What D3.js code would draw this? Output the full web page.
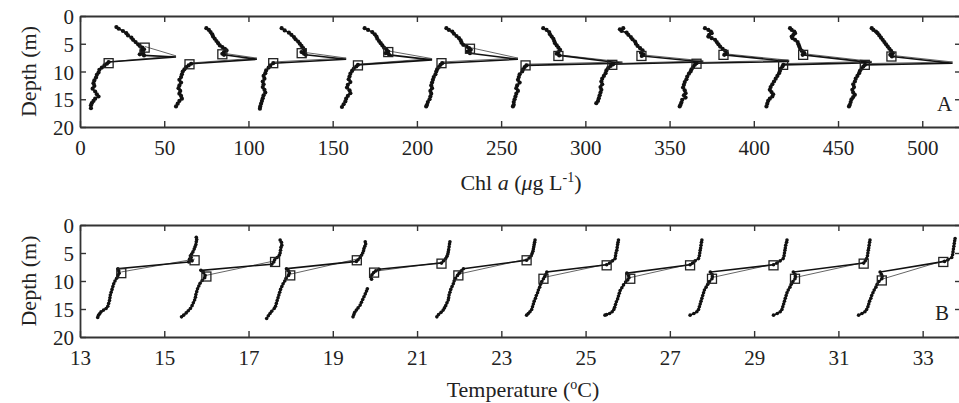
<!DOCTYPE html>
<html>
<head>
<meta charset="utf-8">
<script src="https://cdn.jsdelivr.net/npm/d3@7"></script>
<style>
  body { margin: 0; background: #fff; }
  text { font-family: "Liberation Serif", "Times New Roman", serif; fill: #222; }
</style>
</head>
<body>
<div id="chart"></div>
<script>
// profiles are drawn shifted: each one is offset by a fixed step on the x axis
var chlStep = 50;
var tempStep = 2;

var chlTicks = [0, 50, 100, 150, 200, 250, 300, 350, 400, 450, 500];
var tempTicks = [13, 15, 17, 19, 21, 23, 25, 27, 29, 31, 33];
var depthTicks = [0, 5, 10, 15, 20];

// Chl a profiles, [depth, value] before offset
var chlUpper = [
  [[2.0,21.6],[2.3,23],[2.7,25.5],[3.1,27.5],[3.5,28.5],[3.9,30.5],[4.3,31.5],[4.7,33],[5.1,34.5],[5.4,35.5],[5.7,37],[6.0,38],[6.3,36.5],[6.6,37.5],[6.9,35.5],[7.1,38]],
  [[2.2,25],[2.5,26.5],[2.9,27.5],[3.3,28.5],[3.7,29],[4.1,30],[4.5,31],[4.9,32],[5.3,33],[5.6,34.5],[5.9,36],[6.2,37],[6.5,35.5],[6.8,34.5],[7.0,35.5]],
  [[2.2,19.7],[2.6,21.5],[3.0,24],[3.4,25.5],[3.8,27],[4.2,28],[4.6,29.5],[5.0,30.5],[5.4,31.5],[5.8,32.5],[6.2,33.5],[6.5,31.5],[6.8,33],[7.0,34]],
  [[2.2,19],[2.5,21],[2.9,23.5],[3.3,25],[3.7,26],[4.1,26.5],[4.5,27.5],[4.9,28.5],[5.3,29.5],[5.7,30.5],[6.1,32],[6.4,33],[6.7,31.5],[7.0,33.5]],
  [[2.2,17.5],[2.5,19],[2.8,21],[3.2,22],[3.6,23.5],[4.0,25],[4.4,26],[4.8,26.5],[5.2,27.5],[5.5,29.5],[5.8,31],[6.1,32],[6.4,30],[6.7,31.5]],
  [[2.2,25],[2.5,27],[2.9,28.5],[3.3,29],[3.7,30],[4.1,31],[4.5,31.5],[4.9,32],[5.3,33],[5.7,34],[6.1,35],[6.5,34],[6.8,33],[7.1,34.5]],
  [[2.2,22.5],[2.4,20.5],[2.7,21.5],[3.0,24.5],[3.4,25.5],[3.8,27],[4.2,28],[4.6,29.5],[5.0,30],[5.4,31],[5.8,32.5],[6.2,34],[6.6,33],[6.9,34.5],[7.2,33.5]],
  [[2.2,21],[2.5,23],[2.8,24.5],[3.1,25],[3.4,23.5],[3.7,23],[4.0,25],[4.3,27],[4.7,28],[5.1,29],[5.5,30],[5.9,31.5],[6.3,33],[6.7,34],[7.0,32.5]],
  [[2.2,21.5],[2.5,22.5],[2.8,24],[3.1,24.5],[3.4,23.5],[3.7,22.5],[4.0,23],[4.3,24.5],[4.7,26],[5.1,26.5],[5.5,27],[5.9,27.5],[6.3,28.5],[6.7,30],[7.0,29]],
  [[2.2,20],[2.5,21],[2.8,22.5],[3.1,23.5],[3.5,24.5],[3.9,25.5],[4.3,26.5],[4.7,27.5],[5.1,28.5],[5.5,29.5],[5.9,30.5],[6.3,31.5],[6.7,32.5],[7.0,31],[7.3,32]]
];
var chlPeak = [[7.4,57],[7.8,55],[7.8,58],[7.9,59],[7.8,60],[8.5,72],[8.3,70],[8.2,71],[8.4,70],[8.5,68]];
var chlLower = [
  [[8.3,17],[8.6,16],[8.9,14.5],[9.3,13],[9.7,11.5],[10.2,11],[10.6,10],[11.1,9.5],[11.6,8.5],[12.1,8],[12.6,8.5],[13.1,7.5],[13.6,9],[14.1,10],[14.5,11],[14.9,9],[15.3,8],[15.7,7],[16.1,6.5],[16.6,6.5]],
  [[8.6,16],[8.9,14.5],[9.2,13],[9.6,12],[10.0,11],[10.5,10.5],[11.0,10],[11.5,9],[12.0,10],[12.5,9],[13.0,8.5],[13.5,9.5],[14.0,9],[14.4,10],[14.9,10.5],[15.3,9],[15.8,8],[16.3,7]],
  [[8.5,14.7],[8.9,13],[9.3,12],[9.8,10.5],[10.3,10],[10.8,9],[11.3,9.5],[11.8,8.5],[12.3,9],[12.8,8.5],[13.3,9.5],[13.8,10],[14.3,9],[14.8,8.5],[15.3,8],[15.8,7.5],[16.3,7],[16.7,6.8]],
  [[8.8,15],[9.1,14],[9.5,12.5],[9.9,11.5],[10.4,10.5],[10.9,10],[11.4,9.5],[11.9,10.5],[12.4,9],[12.9,8.5],[13.4,10],[13.9,10.5],[14.4,9],[14.9,8],[15.4,7.5],[15.9,6.5],[16.4,5.5]],
  [[8.5,15],[8.8,14],[9.2,13],[9.6,12],[10.0,11.5],[10.5,11],[11.0,10],[11.5,9.5],[12.0,9],[12.5,8.5],[13.0,9],[13.5,8],[14.0,8.5],[14.5,8],[15.0,7.5],[15.5,6.5],[16.0,6],[16.3,5.5]],
  [[8.9,15],[9.2,14],[9.6,13],[10.0,12.5],[10.5,11],[11.0,10.5],[11.5,10],[12.0,11],[12.5,9.5],[13.0,9],[13.5,10],[14.0,9],[14.5,8.5],[15.0,8],[15.5,7.5],[16.0,7.5],[16.3,7]],
  [[8.7,16.5],[9.0,15],[9.4,13.5],[9.8,12.5],[10.3,12],[10.8,11],[11.3,10],[11.8,9.5],[12.3,10],[12.8,9],[13.3,9.5],[13.8,9],[14.3,8.5],[14.8,8],[15.3,7.5],[15.7,6.5]],
  [[8.5,16],[8.8,15],[9.2,14],[9.6,13],[10.0,12.5],[10.4,11.5],[10.9,10.5],[11.4,10],[11.9,9],[12.4,8.5],[12.9,8],[13.4,9],[13.9,9.5],[14.3,8.5],[14.7,9.5],[15.1,7.5],[15.6,7],[16.0,6.5],[16.3,6]],
  [[8.8,17.5],[9.1,17],[9.5,16],[9.9,15.5],[10.3,15],[10.8,14],[11.3,13],[11.8,12],[12.3,11],[12.8,10],[13.3,9.5],[13.7,10.5],[14.1,11.5],[14.5,11],[14.9,9.5],[15.3,8.5],[15.8,8],[16.3,7.5]],
  [[8.8,16],[9.1,15],[9.5,14],[9.9,13],[10.3,12.5],[10.8,11.5],[11.3,10.5],[11.8,10],[12.3,9],[12.8,9.5],[13.3,8.5],[13.8,9],[14.2,10],[14.6,9],[15.0,8],[15.5,7.5],[16.0,7],[16.3,6.5]]
];
var chlSquares = [
  [[5.7,38.4],[8.5,17]], [[6.9,34.5],[8.7,15]], [[6.7,31.6],[8.5,14.7]], [[6.5,33],[8.9,15]], [[5.9,31.5],[8.5,14.6]],
  [[7.2,34],[8.9,14.5]], [[7.2,33.3],[8.8,16]], [[7.0,32],[8.6,16]], [[7.0,29.3],[8.8,17.4]], [[7.3,31.7],[8.8,15.9]]
];

// temperature profiles, [depth, value] before offset
var tempUpper = [
  [[2.2,15.76],[2.6,15.77],[3.0,15.76],[3.5,15.75],[3.9,15.73],[4.3,15.71],[4.8,15.68],[5.2,15.65],[5.5,15.62],[5.8,15.64],[6.1,15.6],[6.4,15.66],[6.6,15.58]],
  [[2.7,15.75],[3.1,15.78],[3.6,15.79],[4.0,15.77],[4.5,15.76],[5.0,15.75],[5.4,15.73],[5.8,15.68],[6.2,15.62],[6.6,15.6],[7.0,15.55]],
  [[3.0,15.77],[3.4,15.78],[3.8,15.76],[4.2,15.74],[4.6,15.73],[5.0,15.71],[5.4,15.68],[5.8,15.65],[6.2,15.6],[6.5,15.56]],
  [[3.0,15.78],[3.4,15.77],[3.9,15.76],[4.4,15.75],[4.8,15.74],[5.2,15.73],[5.6,15.71],[6.0,15.68],[6.4,15.63],[6.8,15.58]],
  [[2.7,15.8],[3.1,15.79],[3.5,15.78],[3.9,15.77],[4.3,15.76],[4.7,15.75],[5.1,15.73],[5.5,15.71],[5.9,15.66],[6.3,15.6]],
  [[2.7,15.78],[3.1,15.77],[3.5,15.76],[4.0,15.75],[4.5,15.74],[5.0,15.72],[5.5,15.71],[6.0,15.7],[6.4,15.64],[6.8,15.57],[7.1,15.5]],
  [[2.7,15.76],[3.1,15.75],[3.6,15.74],[4.1,15.73],[4.5,15.72],[5.0,15.71],[5.5,15.7],[6.0,15.68],[6.4,15.6],[6.8,15.54],[7.1,15.48]],
  [[2.7,15.78],[3.1,15.77],[3.6,15.75],[4.1,15.74],[4.5,15.73],[5.0,15.72],[5.5,15.71],[6.0,15.69],[6.4,15.62],[6.8,15.54],[7.1,15.46]],
  [[2.7,15.75],[3.1,15.74],[3.6,15.73],[4.1,15.72],[4.5,15.71],[5.0,15.7],[5.5,15.69],[6.0,15.67],[6.4,15.64],[6.8,15.6]],
  [[2.4,15.77],[2.8,15.76],[3.3,15.75],[3.8,15.74],[4.3,15.73],[4.8,15.72],[5.3,15.71],[5.8,15.69],[6.2,15.6],[6.5,15.52]]
];
var tempLower = [
  [[7.8,13.9],[8.2,13.92],[8.6,13.93],[9.0,13.9],[9.5,13.87],[10.0,13.83],[10.5,13.8],[11.0,13.78],[11.5,13.76],[12.0,13.74],[12.5,13.72],[13.0,13.71],[13.5,13.7],[14.0,13.68],[14.5,13.66],[14.9,13.62],[15.2,13.56],[15.5,13.5],[15.8,13.47],[16.1,13.44],[16.5,13.42]],
  [[8.1,13.87],[8.5,13.93],[9.0,13.97],[9.4,13.96],[9.9,13.9],[10.4,13.85],[10.9,13.82],[11.4,13.79],[11.9,13.77],[12.4,13.75],[12.9,13.74],[13.4,13.72],[13.9,13.69],[14.4,13.66],[14.9,13.62],[15.3,13.57],[15.7,13.52],[16.1,13.46],[16.4,13.41]],
  [[7.8,13.9],[8.2,13.95],[8.6,13.97],[9.0,13.95],[9.5,13.89],[10.0,13.86],[10.5,13.82],[11.0,13.79],[11.5,13.76],[12.0,13.74],[12.5,13.72],[13.0,13.7],[13.5,13.68],[14.0,13.66],[14.5,13.64],[14.9,13.61],[15.4,13.55],[15.8,13.51],[16.2,13.47],[16.7,13.43]],
  [[7.9,14.1],[8.2,14.02],[8.5,13.97],[8.9,13.93],[9.3,13.9],[9.7,13.92],null,[11.4,13.82],[11.8,13.8],[12.3,13.77],[12.8,13.74],[13.3,13.71],[13.8,13.68],[14.3,13.65],[14.8,13.6],[15.2,13.56],[15.6,13.52],[16.0,13.5],[16.4,13.48]],
  [[7.8,14.1],[8.2,14.05],[8.6,14.0],[9.0,13.96],[9.5,13.91],[10.0,13.88],[10.5,13.86],[11.0,13.83],[11.5,13.8],[12.0,13.78],[12.5,13.76],[13.0,13.75],[13.4,13.74],[13.9,13.71],[14.4,13.68],[14.8,13.65],[15.2,13.62],[15.6,13.57],[16.0,13.51],[16.4,13.47]],
  [[8.4,14.08],[8.8,14.06],[9.2,14.03],[9.6,14.0],[10.1,13.96],[10.6,13.93],[11.1,13.91],[11.6,13.88],[12.1,13.86],[12.6,13.83],[13.1,13.81],[13.6,13.78],[14.1,13.76],[14.6,13.74],[15.1,13.72],[15.5,13.68],[15.8,13.64],[16.1,13.6]],
  [[8.6,13.98],[9.0,14.02],[9.4,14.03],[9.8,14.0],[10.2,13.95],[10.7,13.9],[11.2,13.86],[11.7,13.82],[12.2,13.8],[12.7,13.78],[13.2,13.76],[13.7,13.73],[14.2,13.71],[14.7,13.69],[15.1,13.67],[15.5,13.63],[15.8,13.57],[16.0,13.5],[16.1,13.46]],
  [[8.4,13.96],[8.8,14.0],[9.2,14.01],[9.6,14.0],[10.1,13.94],[10.6,13.9],[11.1,13.86],[11.6,13.82],[12.1,13.8],[12.6,13.78],[13.1,13.76],[13.6,13.74],[14.1,13.72],[14.6,13.7],[15.1,13.68],[15.5,13.64],[15.8,13.57],[16.1,13.48]],
  [[8.4,13.93],[8.8,13.97],[9.2,13.98],[9.6,13.97],[10.1,13.92],[10.6,13.88],[11.1,13.85],[11.6,13.81],[12.1,13.78],[12.6,13.76],[13.1,13.74],[13.6,13.72],[14.1,13.7],[14.6,13.68],[15.1,13.66],[15.5,13.62],[15.8,13.55],[16.1,13.46]],
  [[8.4,13.99],[8.8,14.02],[9.2,14.04],[9.6,14.03],[10.1,13.96],[10.6,13.92],[11.1,13.89],[11.6,13.85],[12.1,13.82],[12.6,13.79],[13.1,13.77],[13.6,13.74],[14.1,13.72],[14.6,13.7],[15.1,13.67],[15.5,13.63],[15.8,13.56],[16.1,13.48]]
];
var tempSquares = [
  [[6.3,15.72],[8.6,13.98]], [[6.6,15.63],[9.2,14.0]], [[6.3,15.57],[9.0,13.99]], [[6.9,15.58],[8.5,13.98]], [[6.3,15.6],[9.0,13.98]],
  [[7.2,15.5],[9.6,14.0]], [[7.2,15.48],[9.6,14.06]], [[7.2,15.46],[9.6,14.0]], [[6.9,15.6],[9.6,13.97]], [[6.6,15.49],[9.9,14.03]]
];

var W = 959, H = 403;
var left = 80, right = 961;

var svg = d3.select("#chart")
  .append("svg")
    .attr("width", W)
    .attr("height", H);

function drawPanel(opt) {
  var x = d3.scaleLinear().domain(opt.xDomain).range([left, right]);
  var y = d3.scaleLinear().domain([0, 20]).range([opt.top, opt.bottom]);
  var g = svg.append("g");

  // axes, ticks pointing inward
  var bottomAxis = g.append("g")
    .attr("transform", "translate(0," + opt.bottom + ")")
    .call(d3.axisBottom(x).tickValues(opt.ticks).tickSizeInner(-6).tickSizeOuter(0).tickPadding(13));
  var topAxis = g.append("g")
    .attr("transform", "translate(0," + opt.top + ")")
    .call(d3.axisTop(x).tickValues(opt.ticks).tickSizeInner(-6).tickSizeOuter(0).tickFormat(""));
  var leftAxis = g.append("g")
    .attr("transform", "translate(" + left + ",0)")
    .call(d3.axisLeft(y).tickValues(depthTicks).tickSizeInner(-6).tickSizeOuter(0).tickPadding(6));
  var rightAxis = g.append("g")
    .attr("transform", "translate(" + right + ",0)")
    .call(d3.axisRight(y).tickValues(depthTicks).tickSizeInner(-6).tickSizeOuter(0).tickFormat(""));

  [bottomAxis, topAxis, leftAxis, rightAxis].forEach(function(a) {
    a.select(".domain").attr("stroke", "#333").attr("stroke-width", 1.8);
    a.selectAll(".tick line").attr("stroke", "#333").attr("stroke-width", 1.4);
    a.selectAll("text").attr("fill", "#222").style("font-size", "21px")
      .style("font-family", "'Liberation Serif', serif");
  });
  leftAxis.selectAll("text").attr("dy", "0.36em");

  // profiles
  var line = d3.line()
    .defined(function(d) { return d != null; })
    .x(function(d) { return x(d[1] + d.off); })
    .y(function(d) { return y(d[0]); });

  for (let k = 0; k < opt.upper.length; k++) {
    var off = k * opt.step;
    var pts = opt.upper[k].slice();
    if (opt.peak) pts.push(opt.peak[k]);
    pts = pts.concat(opt.lower[k]);
    pts.forEach(function(p) { if (p) p.off = off; });

    // fitted segments through the boundaries
    var fit = [opt.squares[k][0]];
    if (opt.peak) fit.push(opt.peak[k]);
    fit.push(opt.squares[k][1]);
    fit.forEach(function(p) { p.off = off; });
    g.append("path")
      .datum(fit)
      .attr("fill", "none")
      .attr("stroke", "#666")
      .attr("stroke-width", 1)
      .attr("transform", "translate(0,-1.2)")
      .attr("d", line);

    g.append("path")
      .datum(pts)
      .attr("fill", "none")
      .attr("stroke", "#111")
      .attr("stroke-width", 1.6)
      .attr("d", line);

    var dots = opt.upper[k].concat(opt.lower[k]).filter(function(p) { return p; });
    g.selectAll(null)
      .data(dots)
      .enter()
      .append("circle")
        .attr("cx", function(d) { return x(d[1] + off); })
        .attr("cy", function(d) { return y(d[0]); })
        .attr("r", opt.r)
        .attr("fill", "#111");

    g.selectAll(null)
      .data(opt.squares[k])
      .enter()
      .append("rect")
        .attr("x", function(d) { return x(d[1] + off) - 4.5; })
        .attr("y", function(d) { return y(d[0]) - 4.5; })
        .attr("width", 9)
        .attr("height", 9)
        .attr("fill", "none")
        .attr("stroke", "#222")
        .attr("stroke-width", 1.3);
  }

  // labels
  g.append("text")
    .attr("transform", "translate(28," + ((opt.top + opt.bottom) / 2) + ") rotate(-90)")
    .attr("text-anchor", "middle")
    .attr("dy", "0.35em")
    .style("font-size", "22px")
    .text("Depth (m)");

  g.append("text")
    .attr("x", opt.letterX)
    .attr("y", opt.letterY)
    .style("font-size", "21px")
    .text(opt.letter);

  return g;
}

var gA = drawPanel({
  top: 16, bottom: 127, xDomain: [0, 523], ticks: chlTicks, step: chlStep,
  upper: chlUpper, peak: chlPeak, lower: chlLower, squares: chlSquares,
  r: 2.1, letter: "A", letterX: 937, letterY: 111
});
var gB = drawPanel({
  top: 225, bottom: 337, xDomain: [13, 33.91], ticks: tempTicks, step: tempStep,
  upper: tempUpper, peak: null, lower: tempLower, squares: tempSquares,
  r: 1.8, letter: "B", letterX: 935, letterY: 320
});

// axis titles
var tA = svg.append("text")
  .attr("x", 521)
  .attr("y", 190)
  .attr("text-anchor", "middle")
  .style("font-size", "22px");
tA.append("tspan").text("Chl ");
tA.append("tspan").style("font-style", "italic").text("a");
tA.append("tspan").text(" (");
tA.append("tspan").style("font-style", "italic").text("\u03bc");
tA.append("tspan").text("g L");
tA.append("tspan").attr("dy", "-8").style("font-size", "14px").text("-1");
tA.append("tspan").attr("dy", "8").text(")");

var tB = svg.append("text")
  .attr("x", 523)
  .attr("y", 397)
  .attr("text-anchor", "middle")
  .style("font-size", "22px");
tB.append("tspan").text("Temperature (");
tB.append("tspan").attr("dy", "-8").style("font-size", "14px").text("o");
tB.append("tspan").attr("dy", "8").text("C)");
</script>
</body>
</html>
